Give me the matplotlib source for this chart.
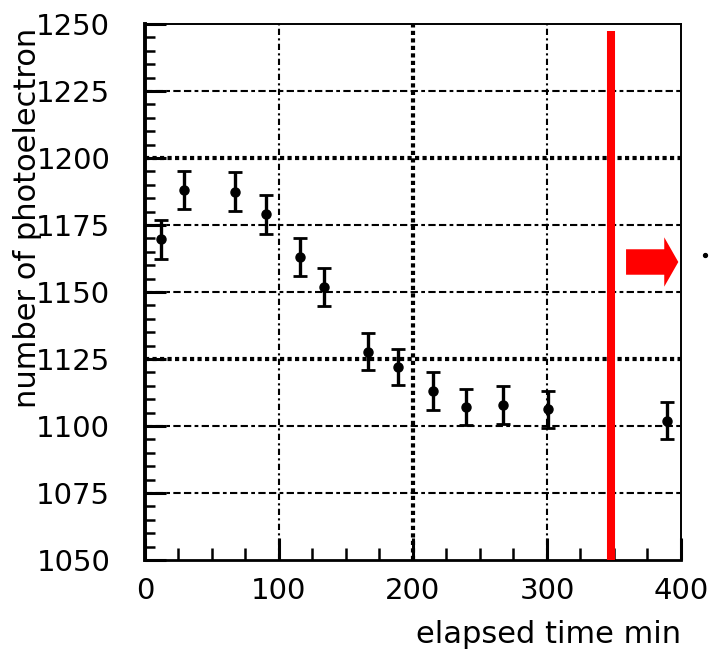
import matplotlib
matplotlib.use("Agg")
import matplotlib.pyplot as plt
from matplotlib.patches import FancyArrow
from matplotlib.ticker import MultipleLocator

# photoelectron yield vs elapsed time
elapsed_min = [12.2, 29.3, 67.4, 90.0, 115.9, 133.6, 166.7, 188.6, 215.2, 239.6, 267.4, 301.0, 389.3]
n_pe = [1169.7, 1188.1, 1187.4, 1179.0, 1163.2, 1152.0, 1127.7, 1121.9, 1113.1, 1107.0, 1107.8, 1106.2, 1102.0]
n_pe_err = [7.2, 7.1, 7.3, 7.3, 7.1, 7.1, 6.9, 6.7, 7.1, 6.7, 7.0, 7.0, 6.8]

x_ticks = [0, 100, 200, 300, 400]
y_ticks = [1050, 1075, 1100, 1125, 1150, 1175, 1200, 1225, 1250]
heavy_x = [200]
heavy_y = [1125, 1200]

cut_time = 347.8   # red marker line
cut_top = 1247.5

plt.rcParams['font.family'] = ['DejaVu Sans']

fig = plt.figure(figsize=(7.11, 6.49), dpi=100)
ax = fig.add_axes([0.2039, 0.1371, 0.7539, 0.8259])
ax.set_xlim(0, 400)
ax.set_ylim(1050, 1250)

# grid lines: dash-dot for most, heavy square dots for a few
for gx in x_ticks[1:-1]:
    if gx in heavy_x:
        ax.axvline(gx, color='black', lw=3.0, ls=(0, (1.0, 0.8)), zorder=1)
    else:
        ax.axvline(gx, color='black', lw=1.5, ls=(0, (3, 1.6, 1, 1.6)), zorder=1)
for gy in y_ticks[1:-1]:
    if gy in heavy_y:
        ax.axhline(gy, color='black', lw=3.0, ls=(0, (1.0, 0.8)), zorder=1)
    else:
        ax.axhline(gy, color='black', lw=1.5, ls=(0, (3.5, 1.6, 3.5, 1.6, 1.8, 1.6)), zorder=1)

ax.errorbar(elapsed_min, n_pe, yerr=n_pe_err, fmt='o', color='black',
            ms=6.5, elinewidth=2.4, capsize=5, capthick=2.0, zorder=3)

ax.plot([cut_time, cut_time], [1050, cut_top], color='#ff0000', lw=5.8,
        solid_capstyle='butt', zorder=4)

arrow = FancyArrow(359.0, 1161.2, 39.0, 0.0, width=9.5, head_width=18.4,
                   head_length=10.5, length_includes_head=True,
                   color='#ff0000', lw=0, zorder=4)
ax.add_patch(arrow)
ax.plot([417.9], [1163.8], 'o', color='black', ms=2.8, clip_on=False)

ax.set_xticks(x_ticks)
ax.set_yticks(y_ticks)
ax.xaxis.set_minor_locator(MultipleLocator(25))
ax.yaxis.set_minor_locator(MultipleLocator(5))
ax.tick_params(which='both', direction='in', top=False, right=False)
ax.tick_params(axis='x', which='major', length=16, width=2.2, pad=12, labelsize=21)
ax.tick_params(axis='x', which='minor', length=8.5, width=1.8)
ax.tick_params(axis='y', which='major', length=15, width=2.2, pad=25, labelsize=21)
ax.tick_params(axis='y', which='minor', length=7.5, width=1.8)

ax.spines['left'].set_linewidth(2.8)
ax.spines['bottom'].set_linewidth(2.0)
ax.spines['top'].set_linewidth(1.4)
ax.spines['right'].set_linewidth(1.4)

fig.text(0.0387, 0.958, 'number of photoelectron', rotation=90,
         ha='center', va='top', fontsize=22)
ax.set_xlabel('elapsed time min', fontsize=22)
ax.xaxis.set_label_coords(1.0, -0.112)
ax.xaxis.label.set_horizontalalignment('right')

fig.savefig('out.png', dpi=100)
